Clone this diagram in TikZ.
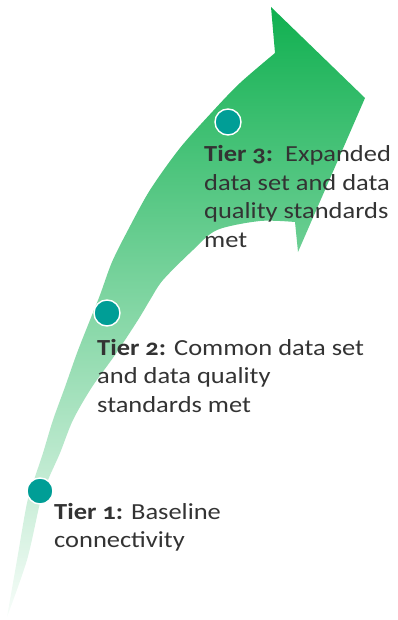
\documentclass[tikz,border=0pt]{standalone}
\usepackage{fontspec}
\setmainfont[Numbers=OldStyle,FakeStretch=1.15]{Carlito}
\definecolor{gtop}{RGB}{16,176,80}
\definecolor{gmid}{RGB}{110,208,150}
\definecolor{gbot}{RGB}{248,253,250}
\definecolor{dotc}{RGB}{0,158,150}
\definecolor{txt}{RGB}{51,51,51}
\begin{document}
\begin{tikzpicture}[x=1pt,y=-1pt,
  dot/.style={circle,fill=dotc,draw=white,line width=1.4pt,minimum width=25pt,minimum height=26pt,inner sep=0pt},
  tier/.style={anchor=base west,inner sep=0pt,text=txt,font=\fontsize{23}{28.5}\selectfont}]
\useasboundingbox (0,0) rectangle (398,620);
\path[top color=gtop,middle color=gmid,bottom color=gbot,shading angle=0]
  plot[smooth,tension=0.5] coordinates {(7,617) (17,560) (27,503) (35,477) (43,453) (53,420) (65,387) (77,353) (90,320) (100,295) (112,262) (128,230) (150,190) (180,148) (213,111) (240,83) (275,53)}
  -- (271,7) -- (365,98) -- (298,252) -- (295,222)
  -- plot[smooth,tension=0.5] coordinates {(295,222) (260,221) (217,230) (193,250) (163,280) (150,300) (138,320) (115,355) (92,387) (73,420) (60,453) (48,480) (40,503) (27,560) (7,617)}
  -- cycle;
\node[dot] (d3) at (228,122) {};
\node[dot] (d2) at (107,313) {};
\node[dot] (d1) at (40,491) {};
\node[tier] (t3) at (204,162) {\begin{tabular}[t]{@{}l@{}}\textbf{Tier 3:}\ \ Expanded\\data set and data\\quality standards\\met\end{tabular}};
\node[tier] (t2) at (97,355) {\begin{tabular}[t]{@{}l@{}}\textbf{Tier 2:} Common data set\\and data quality\\standards met\end{tabular}};
\node[tier] (t1) at (54,519) {\begin{tabular}[t]{@{}l@{}}\textbf{Tier 1:} Baseline\\connectivity\end{tabular}};
\end{tikzpicture}
\end{document}
